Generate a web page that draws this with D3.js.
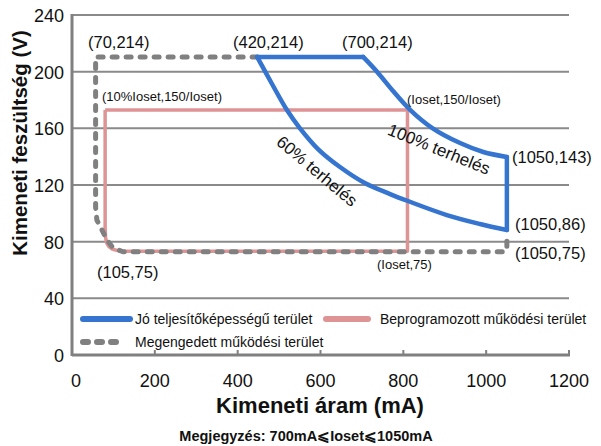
<!DOCTYPE html>
<html>
<head>
<meta charset="utf-8">
<script src="https://cdn.jsdelivr.net/npm/d3@7"></script>
<style>
  body { margin: 0; background: #fff; }
  text { font-family: "Liberation Sans", Arial, sans-serif; fill: #111; }
</style>
</head>
<body>
<div id="chart"></div>
<script>
// tick values
const xTicks = [0, 200, 400, 600, 800, 1000, 1200];
const yTicks = [0, 40, 80, 120, 160, 200, 240];

// good performance area (blue) : [mA, V]
const goodTop = [[447, 210.4], [703, 210.4]];
const curve100 = [[703, 210.4], [737, 199.8], [773, 187.1], [817, 172.9], [870, 160.2], [937, 149.6], [993, 143.3], [1050, 139.8]];
const goodRight = [[1050, 139.8], [1050, 88.2]];
const curve60 = [[1050, 88.2], [985, 92.5], [905, 98.8], [811, 108.7], [768, 113.6], [707, 121.4], [647, 132.7], [594, 145.4], [550, 160.2], [519, 172.9], [483, 191.3], [447, 210.4]];

// allowed operating area (grey dashed)
const allowed = [[447, 210.4], [57, 210.4], [57, 104.5], [60, 95.3], [72.5, 88.2], [84.5, 81.2], [99, 75.5], [123, 72.9], [1046, 72.9], [1050, 75], [1050, 86]];

// programmed operating area (pink)
const programmed = [[80, 172.9], [810, 172.9], [810, 73.3], [125, 73.3], [110, 73.7], [97, 74.8], [89, 76.5], [84, 79], [81, 83], [80, 90], [80, 172.9]];

const legendItems = [
  { name: "Jó teljesítőképességű terület", color: "#3575cf", dash: null },
  { name: "Beprogramozott működési terület", color: "#de9494", dash: null },
  { name: "Megengedett működési terület", color: "#808080", dash: "5,9" }
];

const labels = [
  { t: "(70,214)", x: 88, y: 48, s: 16.5 },
  { t: "(420,214)", x: 233, y: 48, s: 16.5 },
  { t: "(700,214)", x: 342, y: 48, s: 16.5 },
  { t: "(10%Ioset,150/Ioset)", x: 102, y: 101, s: 13 },
  { t: "(Ioset,150/Ioset)", x: 407, y: 104, s: 13 },
  { t: "(1050,143)", x: 512, y: 163, s: 16.5 },
  { t: "(1050,86)", x: 515, y: 230, s: 16.5 },
  { t: "(1050,75)", x: 515, y: 259, s: 16.5 },
  { t: "(Ioset,75)", x: 377, y: 269, s: 13 },
  { t: "(105,75)", x: 97, y: 278, s: 16.5 }
];

const width = 601;
const height = 446;

const svg = d3.select("#chart")
  .append("svg")
  .attr("width", width)
  .attr("height", height);

const x = d3.scaleLinear().domain([0, 1200]).range([72, 569]);
const y = d3.scaleLinear().domain([0, 240]).range([355, 15]);

// grid lines
svg.append("g")
  .selectAll("line")
  .data(yTicks.filter(d => d > 0))
  .enter().append("line")
  .attr("x1", x(0)).attr("x2", x(1200))
  .attr("y1", d => y(d)).attr("y2", d => y(d))
  .attr("stroke", "#8a8a8a")
  .attr("stroke-width", 2);

// axes
svg.append("line")
  .attr("x1", x(0)).attr("x2", x(0))
  .attr("y1", y(240) - 1).attr("y2", y(0) + 1)
  .attr("stroke", "#808080").attr("stroke-width", 3);
svg.append("line")
  .attr("x1", x(0)).attr("x2", x(1200) + 1)
  .attr("y1", y(0)).attr("y2", y(0))
  .attr("stroke", "#808080").attr("stroke-width", 3);

svg.append("g")
  .selectAll("line")
  .data(xTicks.filter(d => d > 0))
  .enter().append("line")
  .attr("x1", d => x(d)).attr("x2", d => x(d))
  .attr("y1", y(0)).attr("y2", y(0) - 5)
  .attr("stroke", "#808080").attr("stroke-width", 2);

svg.append("g")
  .selectAll("text")
  .data(yTicks)
  .enter().append("text")
  .attr("x", 64)
  .attr("y", d => y(d) + 7)
  .attr("text-anchor", "end")
  .style("font-size", "18px")
  .text(d => d);

svg.append("g")
  .selectAll("text")
  .data(xTicks)
  .enter().append("text")
  .attr("x", d => x(d) + (d === 0 ? 4 : 0))
  .attr("y", 387)
  .attr("text-anchor", "middle")
  .style("font-size", "18px")
  .text(d => d);

// axis titles
svg.append("text")
  .attr("transform", "translate(27,143) rotate(-90)")
  .attr("text-anchor", "middle")
  .style("font-size", "20.5px")
  .style("font-weight", "bold")
  .text("Kimeneti feszültség (V)");

svg.append("text")
  .attr("x", 320)
  .attr("y", 413)
  .attr("text-anchor", "middle")
  .style("font-size", "22px")
  .style("font-weight", "bold")
  .text("Kimeneti áram (mA)");

svg.append("text")
  .attr("x", 306)
  .attr("y", 441)
  .attr("text-anchor", "middle")
  .style("font-size", "14.5px")
  .style("font-weight", "bold")
  .text("Megjegyzés:  700mA⩽Ioset⩽1050mA");

const lin = d3.line().x(d => x(d[0])).y(d => y(d[1]));
const smooth = d3.line().x(d => x(d[0])).y(d => y(d[1])).curve(d3.curveCatmullRom.alpha(0.5));

// programmed area
svg.append("path")
  .datum(programmed)
  .attr("d", lin)
  .attr("fill", "none")
  .attr("stroke", "#de9494")
  .attr("stroke-width", 3.5)
  .attr("stroke-linejoin", "round");

// allowed area
svg.append("path")
  .datum(allowed)
  .attr("d", lin)
  .attr("fill", "none")
  .attr("stroke", "#808080")
  .attr("stroke-width", 5)
  .attr("stroke-linecap", "round")
  .attr("stroke-linejoin", "round")
  .attr("stroke-dasharray", "5,9");

// good area
const blue = svg.append("g")
  .attr("fill", "none")
  .attr("stroke", "#3575cf")
  .attr("stroke-width", 4.5)
  .attr("stroke-linecap", "round")
  .attr("stroke-linejoin", "round");
blue.append("path").datum(goodTop).attr("d", lin);
blue.append("path").datum(curve100).attr("d", smooth);
blue.append("path").datum(goodRight).attr("d", lin);
blue.append("path").datum(curve60).attr("d", smooth);

// point labels
svg.append("g")
  .selectAll("text")
  .data(labels)
  .enter().append("text")
  .attr("x", d => d.x)
  .attr("y", d => d.y)
  .style("font-size", d => d.s + "px")
  .text(d => d.t);

svg.append("text")
  .attr("transform", "translate(317,171) rotate(40)")
  .attr("text-anchor", "middle")
  .attr("dy", "0.35em")
  .style("font-size", "17px")
  .text("60% terhelés");

svg.append("text")
  .attr("transform", "translate(439,149) rotate(22)")
  .attr("text-anchor", "middle")
  .attr("dy", "0.35em")
  .style("font-size", "17px")
  .text("100% terhelés");

// legend
const legPos = [[83, 319], [326, 319], [83, 342]];
const legW = [47, 42, 42];
const legTx = [135, 380, 135];
const leg = svg.append("g");
legendItems.forEach((d, i) => {
  leg.append("line")
    .attr("x1", legPos[i][0]).attr("x2", legPos[i][0] + legW[i])
    .attr("y1", legPos[i][1]).attr("y2", legPos[i][1])
    .attr("stroke", d.color)
    .attr("stroke-width", 6)
    .attr("stroke-linecap", "round")
    .attr("stroke-dasharray", d.dash);
  leg.append("text")
    .attr("x", legTx[i])
    .attr("y", legPos[i][1] + 5)
    .style("font-size", "14px")
    .text(d.name);
});
</script>
</body>
</html>
